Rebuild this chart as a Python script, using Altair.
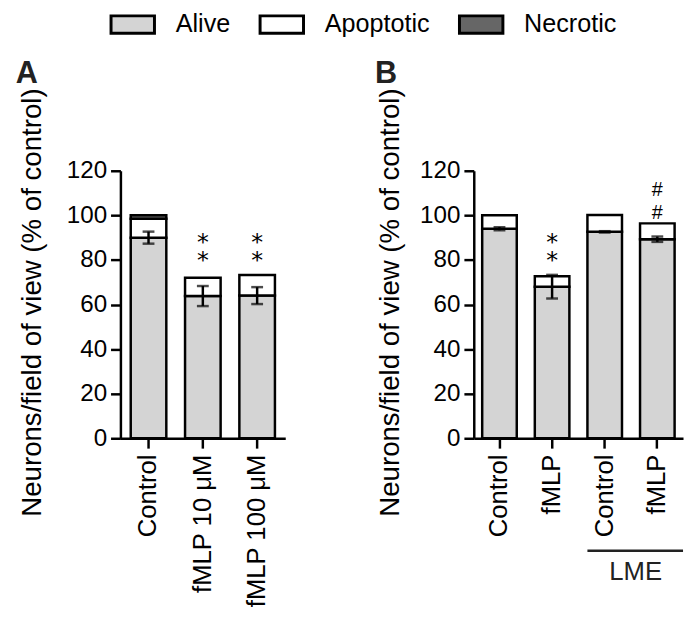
import altair as alt
import pandas as pd

FONT = "Liberation Sans, Arial, sans-serif"

categories = ["Alive", "Apoptotic", "Necrotic"]
cat_colors = ["#d4d4d4", "#ffffff", "#666666"]

# Panel A
groups_a = ["Control", "fMLP 10 μM", "fMLP 100 μM"]
alive_a = [90.0, 63.8, 64.0]
apoptotic_a = [8.5, 8.2, 9.2]
necrotic_a = [1.5, 0.0, 0.0]
err_a = [2.7, 4.5, 3.8]
star_groups_a = ["fMLP 10 μM", "fMLP 100 μM"]
star_top_a = [89.5, 89.5]

# Panel B
groups_b = ["Control", "fMLP", "LME Control", "LME fMLP"]
alive_b = [94.0, 68.0, 92.6, 89.3]
apoptotic_b = [6.0, 4.7, 7.6, 7.1]
necrotic_b = [0.0, 0.0, 0.0, 0.0]
err_b = [0.7, 5.3, 0.3, 1.2]
star_groups_b = ["fMLP"]
star_top_b = [89.5]
hash_groups_b = ["LME fMLP"]
hash_top_b = [111.7]

y_ticks = [0, 20, 40, 60, 80, 100, 120]
y_title = "Neurons/field of view (% of control)"


def build_panel(groups, alive, apop, necr, err, stars_g, stars_y, hash_g, hash_y,
                width, pad_in, pad_out, title, title_dx, ytitle_x, extra=None):
    rows = []
    for g, a, p, n in zip(groups, alive, apop, necr):
        for cat, v, o in zip(categories, [a, p, n], [0, 1, 2]):
            if v > 0:
                rows.append({"group": g, "category": cat, "value": v, "ord": o})
    bars_df = pd.DataFrame(rows)
    err_df = pd.DataFrame({
        "group": groups,
        "lo": [a - e for a, e in zip(alive, err)],
        "hi": [a + e for a, e in zip(alive, err)],
    })
    xscale = alt.Scale(domain=groups, paddingInner=pad_in, paddingOuter=pad_out)
    xenc = alt.X(
        "group:N", scale=xscale,
        axis=alt.Axis(title=None, labelAngle=-90, labelFontSize=26, labelFont=FONT,
                      labelColor="black", tickSize=10, tickWidth=2.5, tickColor="black",
                      domainWidth=2.5, domainColor="black", labelPadding=6,
                      labelExpr="replace(datum.label, 'LME ', '')"),
    )
    xg = alt.X("group:N", scale=xscale)
    bars = alt.Chart(bars_df).mark_bar(stroke="black", strokeWidth=2.5).encode(
        x=xenc,
        y=alt.Y("value:Q", stack="zero",
                scale=alt.Scale(domain=[0, 120], nice=False),
                axis=alt.Axis(values=y_ticks, title=y_title, titleFontSize=28,
                              titleFont=FONT, titleFontWeight="normal", titleColor="black",
                              titleX=ytitle_x, titleY=133,
                              labelFontSize=24.5, labelFont=FONT, labelColor="black",
                              tickSize=10, tickWidth=2.5, tickColor="black",
                              domainWidth=2.5, domainColor="black", labelPadding=4)),
        color=alt.Color("category:N",
                        scale=alt.Scale(domain=categories, range=cat_colors),
                        legend=alt.Legend(orient="none", legendX=-11, legendY=-172,
                                          direction="horizontal", title=None,
                                          symbolType="M-1,-0.4H1V0.4H-1Z",
                                          symbolSize=1936, symbolStrokeWidth=3,
                                          symbolStrokeColor="black",
                                          labelFontSize=25.5, labelFont=FONT,
                                          labelColor="black", labelOffset=20,
                                          columnPadding=23, padding=0)),
        order=alt.Order("ord:Q"),
    )
    rule = alt.Chart(err_df).mark_rule(color="black", strokeWidth=2.5).encode(
        x=xg, y="lo:Q", y2="hi:Q")
    tick_lo = alt.Chart(err_df).mark_tick(color="black", size=12, thickness=2.5).encode(
        x=xg, y="lo:Q")
    tick_hi = alt.Chart(err_df).mark_tick(color="black", size=12, thickness=2.5).encode(
        x=xg, y="hi:Q")
    layers = [bars, rule, tick_lo, tick_hi]
    if stars_g:
        sdf = pd.DataFrame({"group": stars_g, "y": stars_y, "sym": ["*\n*"] * len(stars_g)})
        layers.append(alt.Chart(sdf).mark_text(fontSize=24, font="DejaVu Sans",
                                               baseline="alphabetic", dy=11,
                                               lineBreak="\n", lineHeight=18.5,
                                               color="black").encode(
            x=xg, y="y:Q", text="sym:N"))
    if hash_g:
        hdf = pd.DataFrame({"group": hash_g, "y": hash_y, "sym": ["#\n#"] * len(hash_g)})
        layers.append(alt.Chart(hdf).mark_text(fontSize=20, font=FONT,
                                               baseline="alphabetic", dy=7,
                                               lineBreak="\n", lineHeight=22.8,
                                               color="black").encode(
            x=xg, y="y:Q", text="sym:N"))
    if extra:
        layers.extend(extra)
    return alt.layer(*layers).properties(
        width=width, height=271,
        title=alt.TitleParams(title, anchor="start", frame="group", dx=title_dx, dy=28,
                              fontSize=31, font=FONT, fontWeight="bold",
                              color="#222", baseline="alphabetic", offset=2),
    )


lme_df = pd.DataFrame({"group": ["LME Control"], "label": ["LME"]})
lme_scale = alt.Scale(domain=groups_b, paddingInner=0.343, paddingOuter=0.16)
lme_rule = alt.Chart(lme_df).mark_rule(color="#222", strokeWidth=2.5).encode(
    x=alt.X("group:N", scale=lme_scale, bandPosition=0), x2=alt.value(212),
    y=alt.value(385))
lme_text = alt.Chart(lme_df).mark_text(fontSize=26, font=FONT, color="#222",
                                       baseline="middle").encode(
    x=alt.value(164), y=alt.value(407), text="label:N")

panel_a = build_panel(groups_a, alive_a, apoptotic_a, necrotic_a, err_a,
                      star_groups_a, star_top_a, [], [],
                      167, 0.345, 0.19, "A", -106, -75)
panel_b = build_panel(groups_b, alive_b, apoptotic_b, necrotic_b, err_b,
                      star_groups_b, star_top_b, hash_groups_b, hash_top_b,
                      212, 0.343, 0.16, "B", -100, -70,
                      extra=[lme_rule, lme_text])

chart = alt.hconcat(panel_a, panel_b, spacing=91).properties(
    padding={"left": 16, "top": -3, "right": 0, "bottom": 0}
).configure_view(stroke=None).configure_axis(grid=False)

chart.save("out.html", embed_options={"renderer": "svg", "actions": False})
